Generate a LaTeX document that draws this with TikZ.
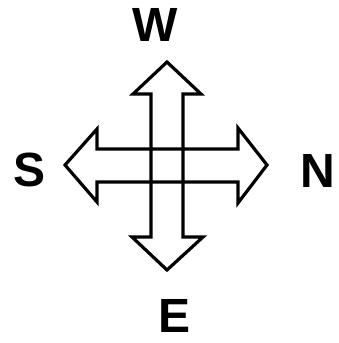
\documentclass[tikz,border=0pt]{standalone}
\usepackage{fontspec}
\setsansfont{Liberation Sans}
\usetikzlibrary{positioning}

\begin{document}
\begin{tikzpicture}[
    x=1pt, y=-1pt,
    every node/.style={font=\sffamily\bfseries\fontsize{48}{48}\selectfont, inner sep=0pt},
    compass/.style={draw=black, line width=3.2pt, line join=miter}
]
\useasboundingbox (0,0) rectangle (338,343);

% North-south double arrow (outline only)
\draw[compass] (167,62) -- (201,94) -- (183,94) -- (183,237) -- (203,237)
    -- (167,270) -- (132,237) -- (151,237) -- (151,94) -- (133,94) -- cycle;

% West-east double arrow (outline only)
\draw[compass] (65,165) -- (97,129) -- (97,149) -- (238,149) -- (238,128)
    -- (267,165) -- (238,203) -- (238,182) -- (97,182) -- (97,202) -- cycle;

% Labels
\node (w) at (155,25) {W};
\node (e) at (175,316) {E};
\node (s) at (30,170) {S};
\node (n) at (318,171) {N};

\end{tikzpicture}
\end{document}
